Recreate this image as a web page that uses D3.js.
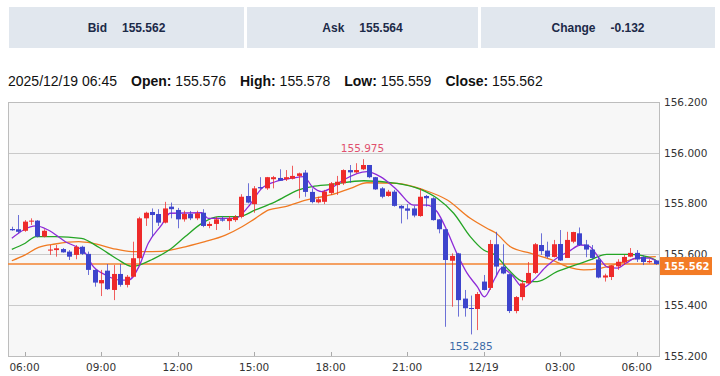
<!DOCTYPE html>
<html>
<head>
<meta charset="utf-8">
<script src="https://cdn.jsdelivr.net/npm/d3@7"></script>
<style>
  body { margin: 0; background: #fff; }
  svg { display: block; }
</style>
</head>
<body>
<div id="chart"></div>
<script>
// quote header
var headerLabels = ['Bid', 'Ask', 'Change']
var headerValues = ['155.562', '155.564', '-0.132']

// last bar info line
var lastTime = '2025/12/19 06:45'
var ohlcLabels = ['Open:', 'High:', 'Low:', 'Close:']
var ohlcValues = ['155.576', '155.578', '155.559', '155.562']

// 15 minute candles, 2025/12/18 05:30 -> 2025/12/19 06:45
var open = [155.700, 155.699, 155.693, 155.729, 155.733, 155.670, 155.615, 155.617, 155.621, 155.611,
  155.598, 155.630, 155.602, 155.539, 155.486, 155.536, 155.460, 155.523, 155.480, 155.512,
  155.585, 155.742, 155.767, 155.759, 155.725, 155.788, 155.775, 155.738, 155.759, 155.742,
  155.764, 155.712, 155.720, 155.738, 155.731, 155.735, 155.748, 155.830, 155.798, 155.865,
  155.860, 155.896, 155.901, 155.896, 155.898, 155.909, 155.922, 155.846, 155.805, 155.807,
  155.842, 155.873, 155.880, 155.932, 155.923, 155.935, 155.952, 155.904, 155.860, 155.830,
  155.847, 155.791, 155.781, 155.781, 155.751, 155.830, 155.821, 155.738, 155.699, 155.575,
  155.604, 155.426, 155.389, 155.385, 155.493, 155.468, 155.640, 155.552, 155.522, 155.377,
  155.432, 155.486, 155.527, 155.637, 155.615, 155.590, 155.641, 155.586, 155.650, 155.683,
  155.639, 155.619, 155.580, 155.509, 155.511, 155.553, 155.568, 155.591, 155.606, 155.590,
  155.569, 155.576]
var high = [155.709, 155.755, 155.735, 155.742, 155.735, 155.699, 155.637, 155.637, 155.625, 155.617,
  155.637, 155.634, 155.611, 155.541, 155.539, 155.562, 155.558, 155.562, 155.519, 155.650,
  155.748, 155.768, 155.781, 155.778, 155.807, 155.804, 155.783, 155.772, 155.771, 155.772,
  155.778, 155.729, 155.748, 155.751, 155.751, 155.755, 155.837, 155.880, 155.869, 155.904,
  155.905, 155.909, 155.935, 155.932, 155.949, 155.922, 155.932, 155.860, 155.827, 155.854,
  155.885, 155.909, 155.935, 155.952, 155.959, 155.975, 155.952, 155.905, 155.865, 155.854,
  155.854, 155.794, 155.798, 155.791, 155.860, 155.834, 155.825, 155.739, 155.700, 155.604,
  155.606, 155.460, 155.438, 155.452, 155.519, 155.657, 155.689, 155.640, 155.523, 155.436,
  155.499, 155.570, 155.645, 155.683, 155.650, 155.657, 155.696, 155.689, 155.689, 155.706,
  155.657, 155.637, 155.591, 155.524, 155.558, 155.581, 155.598, 155.625, 155.617, 155.596,
  155.581, 155.578]
var low = [155.693, 155.683, 155.689, 155.716, 155.667, 155.667, 155.598, 155.591, 155.607, 155.578,
  155.581, 155.598, 155.519, 155.473, 155.436, 155.460, 155.420, 155.473, 155.470, 155.510,
  155.558, 155.712, 155.670, 155.712, 155.722, 155.742, 155.703, 155.729, 155.735, 155.735,
  155.707, 155.703, 155.696, 155.729, 155.696, 155.728, 155.742, 155.801, 155.764, 155.856,
  155.854, 155.860, 155.889, 155.889, 155.895, 155.821, 155.827, 155.801, 155.801, 155.798,
  155.834, 155.834, 155.873, 155.882, 155.919, 155.932, 155.900, 155.854, 155.821, 155.827,
  155.788, 155.722, 155.738, 155.746, 155.748, 155.788, 155.733, 155.683, 155.315, 155.394,
  155.355, 155.355, 155.285, 155.302, 155.458, 155.460, 155.519, 155.522, 155.369, 155.368,
  155.419, 155.484, 155.523, 155.598, 155.585, 155.588, 155.574, 155.598, 155.644, 155.633,
  155.589, 155.581, 155.506, 155.493, 155.499, 155.539, 155.558, 155.589, 155.570, 155.558,
  155.565, 155.559]
var close = [155.695, 155.689, 155.729, 155.733, 155.670, 155.693, 155.619, 155.624, 155.608, 155.591,
  155.630, 155.602, 155.539, 155.489, 155.499, 155.463, 155.523, 155.480, 155.512, 155.585,
  155.742, 155.764, 155.755, 155.725, 155.781, 155.778, 155.738, 155.759, 155.742, 155.762,
  155.712, 155.720, 155.738, 155.733, 155.742, 155.748, 155.827, 155.804, 155.860, 155.860,
  155.904, 155.904, 155.890, 155.904, 155.909, 155.919, 155.846, 155.806, 155.817, 155.847,
  155.880, 155.886, 155.932, 155.923, 155.932, 155.952, 155.904, 155.856, 155.827, 155.847,
  155.791, 155.781, 155.772, 155.753, 155.827, 155.821, 155.735, 155.699, 155.578, 155.594,
  155.420, 155.388, 155.385, 155.444, 155.460, 155.641, 155.552, 155.525, 155.377, 155.432,
  155.486, 155.527, 155.640, 155.613, 155.591, 155.640, 155.576, 155.657, 155.688, 155.637,
  155.619, 155.586, 155.509, 155.517, 155.556, 155.571, 155.590, 155.606, 155.580, 155.570,
  155.574, 155.562]

// moving averages: [bar index, price]
var maShort = [[0, 155.664], [3.8, 155.712], [5.7, 155.696], [8.4, 155.650], [11.5, 155.606], [12.6, 155.558],
  [14.7, 155.519], [17, 155.499], [18.3, 155.499], [19.9, 155.550], [21.4, 155.644], [23.5, 155.716],
  [24.8, 155.762], [29.8, 155.764], [30.8, 155.742], [35, 155.742], [37.1, 155.788], [39.2, 155.860],
  [41.3, 155.886], [43.9, 155.900], [45.8, 155.906], [47.1, 155.867], [48.6, 155.847], [50, 155.860],
  [52, 155.893], [55.7, 155.926], [57.8, 155.906], [60.4, 155.854], [63, 155.794], [65.1, 155.794],
  [66.7, 155.768], [68.2, 155.696], [69.8, 155.604], [71.4, 155.526], [73, 155.473], [74.1, 155.433],
  [75.8, 155.507], [76.8, 155.546], [78.4, 155.519], [80.2, 155.470], [81.8, 155.499], [83.9, 155.554],
  [85.5, 155.586], [87.3, 155.611], [89.2, 155.637], [90.5, 155.633], [92.1, 155.586], [93.4, 155.550],
  [95, 155.546], [96.3, 155.565], [97.9, 155.585], [100, 155.585], [101, 155.574]]
var maMid = [[0, 155.620], [2.1, 155.644], [3.8, 155.670], [6.8, 155.670], [10.9, 155.663], [13.7, 155.627],
  [16.5, 155.582], [18.8, 155.553], [20, 155.558], [22, 155.580], [24.9, 155.621], [27.2, 155.670],
  [29.8, 155.722], [32.4, 155.749], [35.6, 155.749], [38.2, 155.775], [41.3, 155.807], [45, 155.854],
  [47.1, 155.867], [50, 155.875], [55.2, 155.890], [60.4, 155.880], [64.1, 155.856], [66.7, 155.821],
  [69.3, 155.762], [71.9, 155.670], [74, 155.617], [75.8, 155.598], [77.7, 155.545], [80.3, 155.493],
  [82.4, 155.493], [85.5, 155.532], [88.1, 155.556], [90.7, 155.578], [93.3, 155.600], [97, 155.600],
  [99.6, 155.591], [101, 155.578]]
var maLong = [[0, 155.575], [2.1, 155.598], [4.2, 155.628], [6.8, 155.641], [10.5, 155.650], [12.6, 155.644],
  [15.7, 155.624], [18.8, 155.611], [22, 155.611], [24.9, 155.617], [27.2, 155.630], [30.3, 155.650],
  [33.5, 155.676], [36.1, 155.709], [38.2, 155.742], [40.3, 155.775], [42.9, 155.788], [46.1, 155.814],
  [48.7, 155.827], [50, 155.834], [53.1, 155.860], [55.7, 155.882], [60.4, 155.880], [64.6, 155.854],
  [68.3, 155.814], [71.9, 155.742], [74.5, 155.703], [75.8, 155.686], [78.2, 155.630], [81.3, 155.605],
  [84.5, 155.580], [87.1, 155.552], [89.7, 155.539], [92.3, 155.545], [96, 155.571], [98.6, 155.587],
  [101, 155.591]]

var lastPrice = 155.562
var priceTicks = [155.2, 155.4, 155.6, 155.8, 156.0, 156.2]
var timeTickIdx = [2, 14, 26, 38, 50, 62, 74, 86, 98]
var timeTickLabels = ['06:00', '09:00', '12:00', '15:00', '18:00', '21:00', '12/19', '03:00', '06:00']

var width = 720
var height = 376
var plot = { left: 8, right: 659, top: 102, bottom: 356 }

var svg = d3.select('#chart').append('svg')
  .attr('width', width)
  .attr('height', height)

// header boxes
var boxes = [[9, 244], [247, 478], [481, 715]]
var head = svg.selectAll('g.head')
  .data(headerLabels)
  .enter().append('g')
  .attr('class', 'head')

head.append('rect')
  .attr('x', function (d, i) { return boxes[i][0] })
  .attr('y', 7)
  .attr('width', function (d, i) { return boxes[i][1] - boxes[i][0] })
  .attr('height', 41)
  .attr('fill', '#e1e7ee')

var headText = head.append('text')
  .attr('x', function (d, i) { return (boxes[i][0] + boxes[i][1]) / 2 })
  .attr('y', 32)
  .attr('text-anchor', 'middle')
  .attr('font-family', 'Liberation Sans, Arial, sans-serif')
  .attr('font-size', 12)
  .attr('font-weight', 'bold')
  .attr('fill', '#1c2a48')
headText.append('tspan').text(function (d) { return d })
headText.append('tspan').attr('dx', 15).text(function (d, i) { return headerValues[i] })

// info line
var info = svg.append('text')
  .attr('x', 8)
  .attr('y', 86)
  .attr('font-family', 'Liberation Sans, Arial, sans-serif')
  .attr('font-size', 14)
  .attr('fill', '#111')
info.append('tspan').text(lastTime)
ohlcLabels.forEach(function (lab, i) {
  info.append('tspan').attr('dx', 14).attr('font-weight', 'bold').text(lab)
  info.append('tspan').text(' ' + ohlcValues[i])
})

// scales
var x = d3.scaleLinear()
  .domain([-0.6, 101.5])
  .range([plot.left, plot.right])

var y = d3.scaleLinear()
  .domain([155.2, 156.2])
  .range([plot.bottom, plot.top])

// plot background
svg.append('rect')
  .attr('x', plot.left)
  .attr('y', plot.top)
  .attr('width', plot.right - plot.left)
  .attr('height', plot.bottom - plot.top)
  .attr('fill', '#f7f7f7')

// horizontal grid
svg.selectAll('line.grid')
  .data(priceTicks.slice(1, -1))
  .enter().append('line')
  .attr('class', 'grid')
  .attr('x1', plot.left)
  .attr('x2', plot.right)
  .attr('y1', function (d) { return Math.round(y(d)) + 0.5 })
  .attr('y2', function (d) { return Math.round(y(d)) + 0.5 })
  .attr('stroke', '#cacaca')

// time ticks
svg.selectAll('line.tt')
  .data(timeTickIdx)
  .enter().append('line')
  .attr('class', 'tt')
  .attr('x1', function (d) { return Math.round(x(d)) + 0.5 })
  .attr('x2', function (d) { return Math.round(x(d)) + 0.5 })
  .attr('y1', plot.bottom - 4)
  .attr('y2', plot.bottom)
  .attr('stroke', '#aaa')

// border
svg.append('rect')
  .attr('x', plot.left + 0.5)
  .attr('y', plot.top + 0.5)
  .attr('width', plot.right - plot.left)
  .attr('height', plot.bottom - plot.top)
  .attr('fill', 'none')
  .attr('stroke', '#bdbdbd')

// current price line
svg.append('line')
  .attr('x1', plot.left)
  .attr('x2', plot.right)
  .attr('y1', y(lastPrice))
  .attr('y2', y(lastPrice))
  .attr('stroke', '#f38330')
  .attr('stroke-width', 1.4)

// moving averages
var maLine = d3.line()
  .x(function (d) { return x(d[0]) })
  .y(function (d) { return y(d[1]) })
  .curve(d3.curveMonotoneX)

var maSeries = [[maLong, '#f07a22'], [maMid, '#25a525'], [maShort, '#8e2ad8']]
svg.selectAll('path.ma')
  .data(maSeries)
  .enter().append('path')
  .attr('class', 'ma')
  .attr('d', function (d) { return maLine(d[0]) })
  .attr('fill', 'none')
  .attr('stroke', function (d) { return d[1] })
  .attr('stroke-width', 1.3)

// candles
var up = '#ee2a2a'
var down = '#3d44cc'
var candle = svg.selectAll('g.candle')
  .data(d3.range(open.length))
  .enter().append('g')
  .attr('class', 'candle')

candle.append('line')
  .attr('x1', function (i) { return Math.round(x(i)) + 0.5 })
  .attr('x2', function (i) { return Math.round(x(i)) + 0.5 })
  .attr('y1', function (i) { return y(high[i]) })
  .attr('y2', function (i) { return y(low[i]) })
  .attr('stroke', function (i) { return close[i] > open[i] ? up : down })
  .attr('stroke-opacity', 0.75)

candle.append('rect')
  .attr('x', function (i) { return Math.round(x(i)) - 2 })
  .attr('y', function (i) { return y(Math.max(open[i], close[i])) })
  .attr('width', 5)
  .attr('height', function (i) { return Math.max(1, Math.abs(y(open[i]) - y(close[i]))) })
  .attr('fill', function (i) { return close[i] > open[i] ? up : down })

// high / low markers
var hi = d3.maxIndex(high)
var lo = d3.minIndex(low)
svg.append('text')
  .attr('x', x(hi))
  .attr('y', y(high[hi]) - 7)
  .attr('text-anchor', 'middle')
  .attr('font-family', 'DejaVu Sans, Verdana, sans-serif')
  .attr('font-size', 10.5)
  .attr('fill', '#e0506e')
  .text(d3.format('.3f')(high[hi]))
svg.append('text')
  .attr('x', x(lo))
  .attr('y', y(low[lo]) + 16)
  .attr('text-anchor', 'middle')
  .attr('font-family', 'DejaVu Sans, Verdana, sans-serif')
  .attr('font-size', 10.5)
  .attr('fill', '#3b6aa8')
  .text(d3.format('.3f')(low[lo]))

// price axis labels
svg.selectAll('text.py')
  .data(priceTicks)
  .enter().append('text')
  .attr('class', 'py')
  .attr('x', plot.right + 5)
  .attr('y', function (d) { return y(d) })
  .attr('dy', '0.36em')
  .attr('font-family', 'DejaVu Sans, Verdana, sans-serif')
  .attr('font-size', 10.5)
  .attr('fill', '#333')
  .text(d3.format('.3f'))

// time axis labels
svg.selectAll('text.tx')
  .data(timeTickIdx)
  .enter().append('text')
  .attr('class', 'tx')
  .attr('x', function (d) { return x(d) })
  .attr('y', plot.bottom + 15)
  .attr('text-anchor', 'middle')
  .attr('font-family', 'DejaVu Sans, Verdana, sans-serif')
  .attr('font-size', 10.5)
  .attr('fill', '#333')
  .text(function (d, i) { return timeTickLabels[i] })

// last price tag, sits just under the price line
svg.append('rect')
  .attr('x', plot.right + 1)
  .attr('y', y(lastPrice) - 7)
  .attr('width', 52)
  .attr('height', 18)
  .attr('fill', '#f37b25')
svg.append('text')
  .attr('x', plot.right + 5)
  .attr('y', y(lastPrice) + 2.5)
  .attr('dy', '0.36em')
  .attr('font-family', 'DejaVu Sans, Verdana, sans-serif')
  .attr('font-size', 10)
  .attr('font-weight', 'bold')
  .attr('fill', '#fff')
  .text(d3.format('.3f')(lastPrice))
</script>
</body>
</html>
